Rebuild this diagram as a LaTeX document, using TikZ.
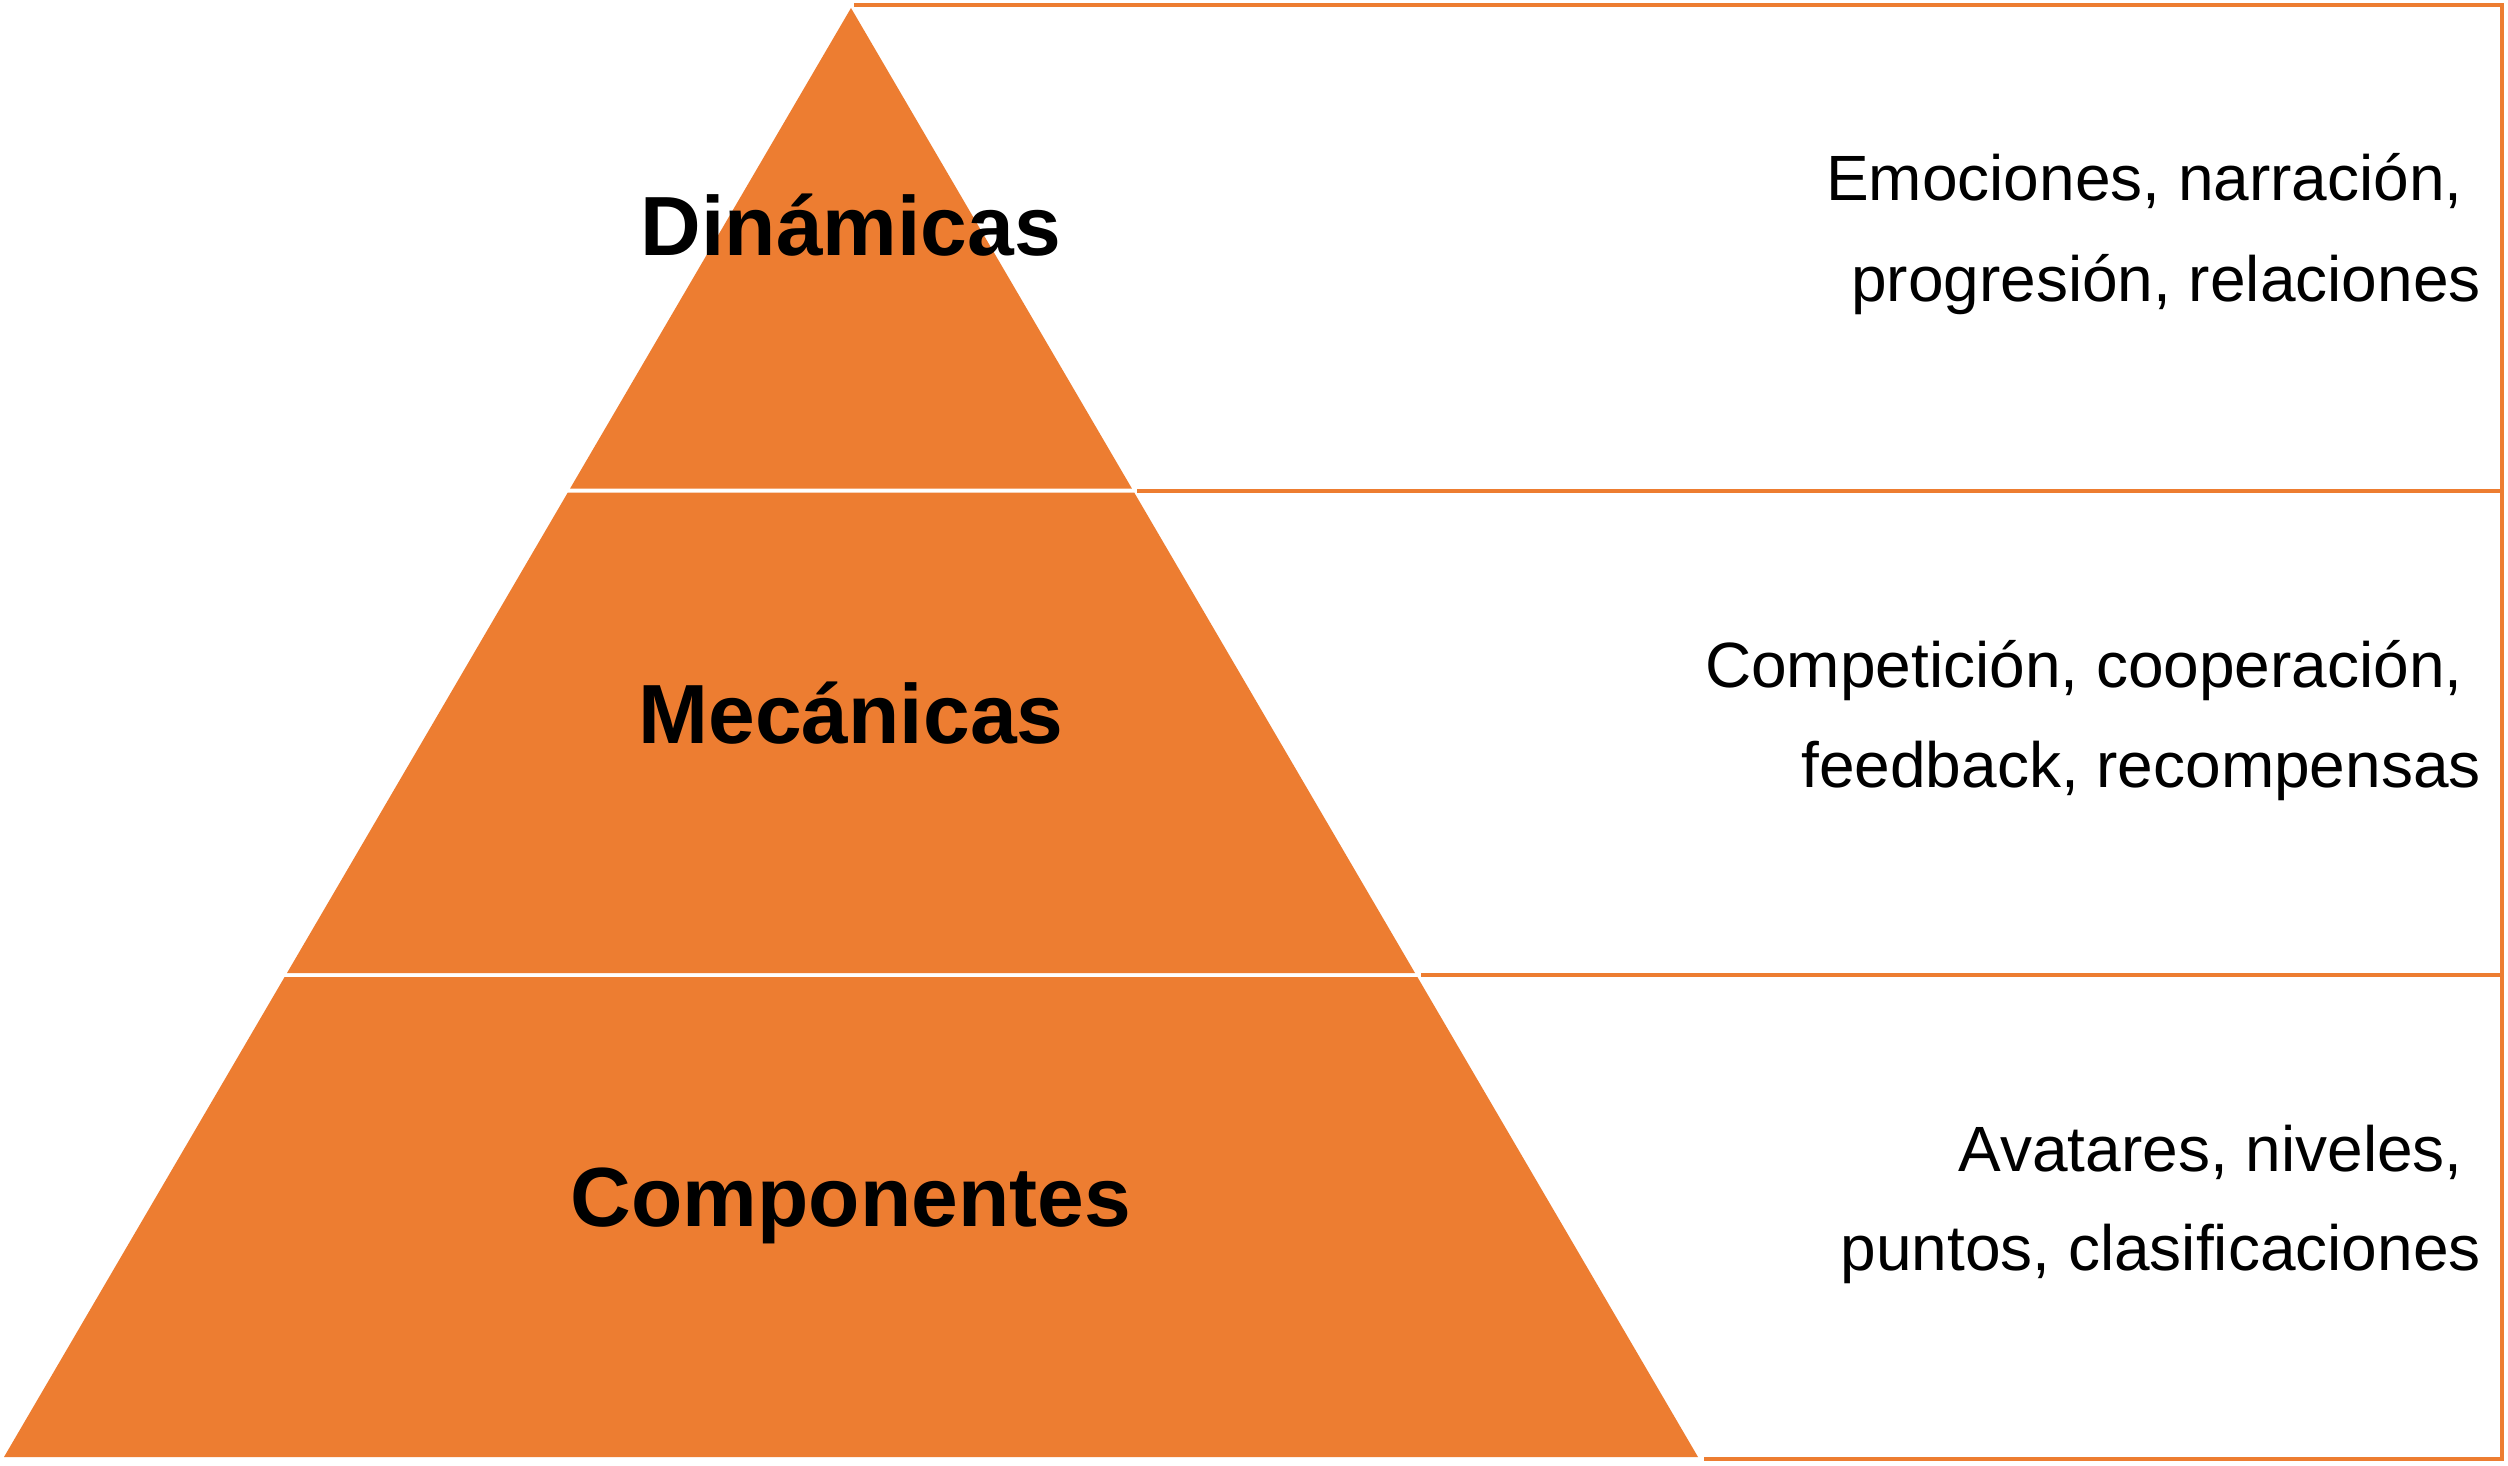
\documentclass[tikz,border=0pt]{standalone}
\usepackage{fontspec}
\setmainfont{Liberation Sans}
\definecolor{orangeA}{HTML}{ED7D31}
\begin{document}
\begin{tikzpicture}[x=1pt,y=-1pt,
  band/.style={fill=orangeA,draw=none},
  rule/.style={draw=orangeA,line width=4pt},
  level/.style={font=\fontsize{84}{100}\selectfont\bfseries,inner sep=0pt,anchor=base},
  desc/.style={font=\fontsize{64}{100}\selectfont,inner sep=0pt,anchor=base east}]
\useasboundingbox[fill=white] (0,0) rectangle (2508,1466);
% pyramid bands
\fill[band] (851,8) -- (1131.9,488.5) -- (570.1,488.5) -- cycle;
\fill[band] (567.8,492.5) -- (1134.2,492.5) -- (1415.0,973) -- (287.0,973) -- cycle;
\fill[band] (284.6,977) -- (1417.4,977) -- (1698,1457) -- (4,1457) -- cycle;
% table rules
\draw[rule] (854,5.5) -- (2502,5.5) -- (2502,1459) -- (1704,1459);
\draw[rule] (1137,490.5) -- (2502,490.5);
\draw[rule] (1421,975) -- (2502,975);
% level labels
\node[level] (din) at (851,255) {Dinámicas};
\node[level] (mec) at (851,743) {Mecánicas};
\node[level] (com) at (851,1226) {Componentes};
% descriptions
\node[desc] (d1a) at (2463,201) {Emociones, narración,};
\node[desc] (d1b) at (2481,301) {progresión, relaciones};
\node[desc] (d2a) at (2463,687) {Competición, cooperación,};
\node[desc] (d2b) at (2481,787) {feedback, recompensas};
\node[desc] (d3a) at (2463,1171) {Avatares, niveles,};
\node[desc] (d3b) at (2481,1270) {puntos, clasificaciones};
\end{tikzpicture}
\end{document}
